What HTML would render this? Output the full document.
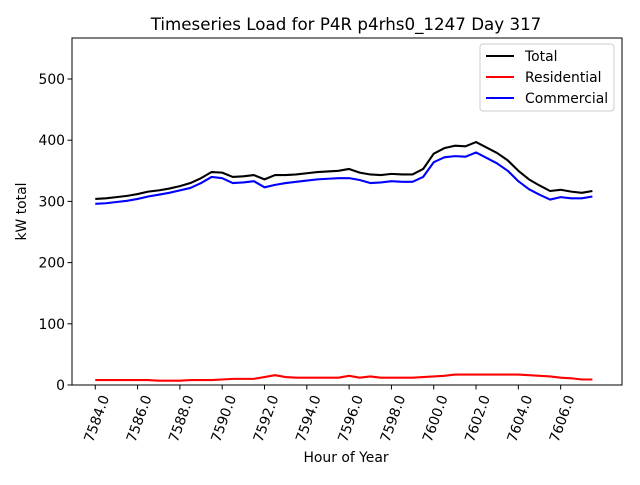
<!DOCTYPE html>
<html><head><meta charset="utf-8"><style>
body{margin:0;background:#fff;font-family:"Liberation Sans","DejaVu Sans",sans-serif}
svg text{font-family:"DejaVu Sans","Liberation Sans",sans-serif;fill:#000}
</style></head><body>
<svg id="c" width="640" height="480"></svg>
<script>
const hours=[7584,7584.5,7585,7585.5,7586,7586.5,7587,7587.5,7588,7588.5,7589,7589.5,7590,7590.5,7591,7591.5,7592,7592.5,7593,7593.5,7594,7594.5,7595,7595.5,7596,7596.5,7597,7597.5,7598,7598.5,7599,7599.5,7600,7600.5,7601,7601.5,7602,7602.5,7603,7603.5,7604,7604.5,7605,7605.5,7606,7606.5,7607,7607.5];
const commercial=[296,297,299,301,304,308,311,314,318,322,330,340,338,330,331,333,323,327,330,332,334,336,337,338,338,335,330,331,333,332,332,340,364,372,374,373,380,371,362,350,333,320,311,303,307,305,305,308];
const residential=[8,8,8,8,8,8,7,7,7,8,8,8,9,10,10,10,13,16,13,12,12,12,12,12,15,12,14,12,12,12,12,13,14,15,17,17,17,17,17,17,17,16,15,14,12,11,9,9];
const total=[304,305,307,309,312,316,318,321,325,330,338,348,347,340,341,343,336,343,343,344,346,348,349,350,353,347,344,343,345,344,344,353,378,387,391,390,397,388,379,367,350,336,326,317,319,316,314,317];
const xTicks=[7584,7586,7588,7590,7592,7594,7596,7598,7600,7602,7604,7606];
const yTicks=[0,100,200,300,400,500];
const L=72,R=622,T=38,B=385,X0=7582.9,X1=7608.9,Y0=0,Y1=567;
const X=v=>L+(v-X0)/(X1-X0)*(R-L), Y=v=>B-(v-Y0)/(Y1-Y0)*(B-T);
const svg=document.getElementById('c');const NS='http://www.w3.org/2000/svg';
function mk(t,a,p){const e=document.createElementNS(NS,t);for(const k in a)e.setAttribute(k,a[k]);(p||svg).appendChild(e);return e;}
let e=mk('rect',{x:L,y:T,width:R-L,height:B-T,fill:'none',stroke:'#000','stroke-width':1});


xTicks.forEach(v=>{mk('line',{x1:X(v),x2:X(v),y1:B,y2:B+4.5,stroke:'#000'});
 const t=mk('text',{x:0,y:0,'font-size':13.9,'text-anchor':'end',transform:`translate(${X(v)+5},${B+9}) rotate(-70)`,dy:'0.7em'});t.textContent=v.toFixed(1);
 
 });
yTicks.forEach(v=>{mk('line',{x1:L-4.5,x2:L,y1:Y(v),y2:Y(v),stroke:'#000'});
 const t=mk('text',{x:L-7,y:Y(v)+5,'font-size':13.9,'text-anchor':'end'});t.textContent=v;
 
 });
function line(arr,col,name){const p=mk('polyline',{points:arr.map((v,i)=>X(hours[i])+','+Y(v)).join(' '),fill:'none',stroke:col,'stroke-width':2.1,'stroke-linejoin':'round'});
 
 }
line(total,'#000','total-line');line(residential,'#f00','residential-line');line(commercial,'#00f','commercial-line');
let t=mk('text',{x:346,y:30,'font-size':16.7,'text-anchor':'middle'});t.textContent='Timeseries Load for P4R p4rhs0_1247  Day 317';


t=mk('text',{x:346,y:462,'font-size':13.9,'text-anchor':'middle'});t.textContent='Hour of Year';


t=mk('text',{x:0,y:0,'font-size':13.9,'text-anchor':'middle',transform:`translate(26,${(T+B)/2}) rotate(-90)`});t.textContent='kW total';


const g=mk('g',{});


mk('rect',{x:480,y:44,width:134,height:67,rx:3,fill:'#fff',stroke:'#ccc'},g);
[['Total','#000'],['Residential','#f00'],['Commercial','#00f']].forEach((d,i)=>{const y=56+i*21;
 mk('line',{x1:486,x2:514,y1:y,y2:y,stroke:d[1],'stroke-width':2.1},g);
 const tt=mk('text',{x:525,y:y+5,'font-size':13.9},g);tt.textContent=d[0];
 
 });
</script>
</body></html>
